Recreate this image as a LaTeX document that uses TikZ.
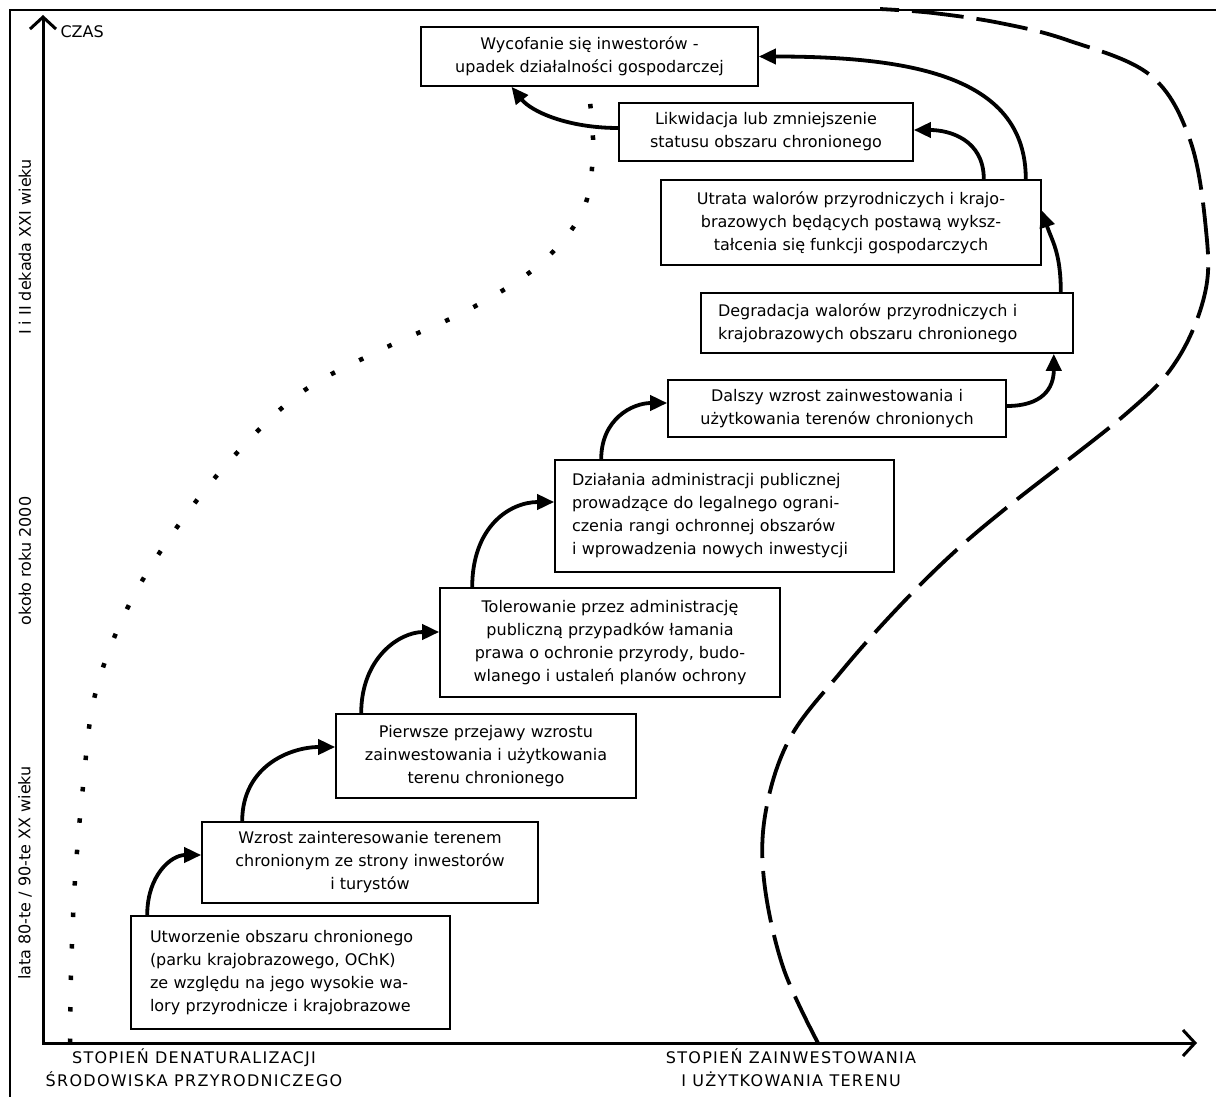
\documentclass[tikz,border=0pt]{standalone}
\usepackage{fontspec}
\setmainfont{DejaVu Sans}
\newfontfamily\capsfont{DejaVu Sans}[LetterSpace=8]
\usetikzlibrary{arrows.meta}

\begin{document}
\begin{tikzpicture}[x=1pt,y=-1pt,
  stage/.style={draw,line width=1.6pt,inner sep=0pt,align=center,font=\fontsize{16}{23}\selectfont},
  flow/.style={line width=3.8pt,-{Triangle[length=17pt,width=15pt]}},
  era/.style={rotate=90,font=\fontsize{16}{20}\selectfont},
  axlabel/.style={align=center,font=\capsfont\fontsize{16}{23}\selectfont}]
\useasboundingbox (0,0) rectangle (1216,1097);
\draw[line width=2pt] (10,1097) -- (10,10) -- (1216,10);
\draw[line width=3pt,{Straight Barb[length=12pt,width=26pt]}-{Straight Barb[length=12pt,width=26pt]}] (43,15) -- (43,1043) -- (1197,1043);
\node[anchor=west,font=\fontsize{16}{20}\selectfont] (czas) at (57,32) {CZAS};
\node[era] (era3) at (25,247) {I i II dekada XXI wieku};
\node[era] (era2) at (25,561) {około roku 2000};
\node[era] (era1) at (25,873) {lata 80-te / 90-te XX wieku};
\node[axlabel] (xden) at (194,1068) {STOPIEŃ DENATURALIZACJI\\ŚRODOWISKA PRZYRODNICZEGO};
\node[axlabel] (xinw) at (791,1068) {STOPIEŃ ZAINWESTOWANIA\\I UŻYTKOWANIA TERENU};

\draw[line width=4.5pt,dash pattern=on 4.5pt off 27pt] plot[smooth,tension=0.6] coordinates {(70,1043) (71,975) (75,880) (83,787) (95,695) (127,609) (175,530) (234,456) (302,392) (385,348) (470,309) (540,264) (583,210) (593,147) (588,87)};
\draw[line width=3.8pt,dash pattern=on 52pt off 13pt] plot[smooth,tension=0.6] coordinates {(818,1043) (783,967) (764,880) (766,810) (790,738) (840,673) (893,613) (950,556) (1010,505) (1127,413) (1177,360) (1205,293) (1206,230) (1190,140) (1150,75) (1067,40) (1000,23) (933,13) (880,9)};

\node[stage,minimum width=319pt,minimum height=113pt,text width=281pt,align=left] (utworzenie) at (290.5,972.5) {Utworzenie obszaru chronionego\\(parku krajobrazowego, OChK)\\ze względu na jego wysokie wa-\\lory przyrodnicze i krajobrazowe};
\node[stage,minimum width=336pt,minimum height=81pt] (wzrost) at (370,862.5) {Wzrost zainteresowanie terenem\\chronionym ze strony inwestorów\\i turystów};
\node[stage,minimum width=300pt,minimum height=84pt] (pierwsze) at (486,756) {Pierwsze przejawy wzrostu\\zainwestowania i użytkowania\\terenu chronionego};
\node[stage,minimum width=340pt,minimum height=109pt] (tolerowanie) at (610,642.5) {Tolerowanie przez administrację\\publiczną przypadków łamania\\prawa o ochronie przyrody, budo-\\wlanego i ustaleń planów ochrony};
\node[stage,minimum width=339pt,minimum height=112pt,text width=305pt,align=left] (dzialania) at (724.5,516) {Działania administracji publicznej\\prowadzące do legalnego ograni-\\czenia rangi ochronnej obszarów\\i wprowadzenia nowych inwestycji};
\node[stage,minimum width=338pt,minimum height=57pt] (dalszy) at (837,408.5) {Dalszy wzrost zainwestowania i\\użytkowania terenów chronionych};
\node[stage,minimum width=372pt,minimum height=60pt,text width=338pt,align=left] (degradacja) at (887,323) {Degradacja walorów przyrodniczych i\\krajobrazowych obszaru chronionego};
\node[stage,minimum width=380pt,minimum height=85pt] (utrata) at (851,222.5) {Utrata walorów przyrodniczych i krajo-\\brazowych będących postawą wyksz-\\tałcenia się funkcji gospodarczych};
\node[stage,minimum width=294pt,minimum height=58pt] (likwidacja) at (766,132) {Likwidacja lub zmniejszenie\\statusu obszaru chronionego};
\node[stage,minimum width=337pt,minimum height=59pt] (wycofanie) at (589.5,56.5) {Wycofanie się inwestorów -\\upadek działalności gospodarczej};

\draw[flow] ([xshift=17pt]utworzenie.north west) .. controls +(0,-40) and +(-30,0) .. ([yshift=7.5pt]wzrost.west);
\draw[flow] ([xshift=41pt]wzrost.north west) .. controls +(0,-55) and +(-45,0) .. ([yshift=9pt]pierwsze.west);
\draw[flow] ([xshift=26pt]pierwsze.north west) .. controls +(0,-55) and +(-40,0) .. ([yshift=10.5pt]tolerowanie.west);
\draw[flow] ([xshift=33pt]tolerowanie.north west) .. controls +(0,-60) and +(-45,0) .. ([yshift=14pt]dzialania.west);
\draw[flow] ([xshift=47pt]dzialania.north west) .. controls +(0,-40) and +(-35,0) .. ([yshift=5.5pt]dalszy.west);
\draw[flow] ([yshift=2.5pt]dalszy.east) .. controls +(35,0) and +(0,35) .. ([xshift=-20pt]degradacja.south east);
\draw[flow] ([xshift=-13pt]degradacja.north east) .. controls +(0,-40) and +(10,30) .. ([yshift=12pt]utrata.east);
\draw[flow] ([xshift=-58pt]utrata.north east) .. controls +(0,-40) and +(35,0) .. ([yshift=2pt]likwidacja.east);
\draw[flow] ([xshift=-16pt]utrata.north east) .. controls +(0,-100) and +(160,0) .. (wycofanie.east);
\draw[flow] ([yshift=4pt]likwidacja.west) .. controls +(-50,0) and +(20,25) .. ([xshift=-78pt]wycofanie.south);
\end{tikzpicture}
\end{document}
